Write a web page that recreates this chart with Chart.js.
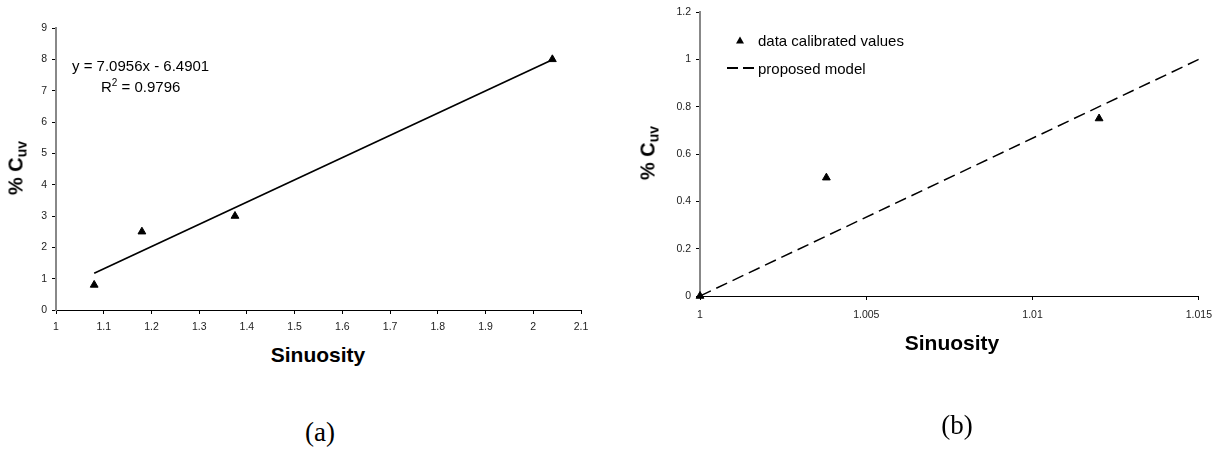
<!DOCTYPE html>
<html>
<head>
<meta charset="utf-8">
<script src="https://cdn.jsdelivr.net/npm/chart.js@4"></script>
<style>
  body { margin: 0; background: #fff; }
  #wrap { position: relative; width: 1221px; height: 450px; background: #fff; font-family: "Liberation Sans", Arial, sans-serif; color: #000; }
  .box { position: absolute; }
  .lbl { position: absolute; transform: translate(-50%, -50%); white-space: nowrap; line-height: 1; }
  .ttl { font-weight: bold; font-size: 21px; }
  .ytl { font-weight: bold; font-size: 20px; transform: translate(-50%, -50%) rotate(-90deg); }
  .ytl sub { font-size: 14px; vertical-align: -4px; }
  .cap { font-family: "Liberation Serif", "Times New Roman", serif; font-size: 27px; }
  .txt { position: absolute; font-size: 15px; line-height: 1; white-space: nowrap; transform: translateY(-50%); }
  .txt sup { font-size: 10px; vertical-align: 6px; }
  .tri { position: absolute; width: 0; height: 0; border-left: 4px solid transparent; border-right: 4px solid transparent; border-bottom: 7px solid #000; transform: translate(-50%, -50%); }
</style>
</head>
<body>
<div id="wrap">
  <div class="box" style="left:0;top:0;"><canvas id="chartA" width="610" height="340"></canvas></div>
  <div class="box" style="left:620px;top:0;"><canvas id="chartB" width="601" height="340"></canvas></div>

  <div class="lbl ytl" style="left:17px;top:168px;">% C<sub>uv</sub></div>
  <div class="lbl ttl" style="left:318px;top:354px;">Sinuosity</div>
  <div class="lbl cap" style="left:320px;top:432px;">(a)</div>
  <div class="txt" style="left:72px;top:65px;">y = 7.0956x - 6.4901</div>
  <div class="txt" style="left:101px;top:86px;">R<sup>2</sup> = 0.9796</div>

  <div class="lbl ytl" style="left:649px;top:153px;">% C<sub>uv</sub></div>
  <div class="lbl ttl" style="left:952px;top:342px;">Sinuosity</div>
  <div class="lbl cap" style="left:957px;top:425px;">(b)</div>
  <div class="tri" style="left:740px;top:40px;"></div>
  <div class="txt" style="left:758px;top:40px;">data calibrated values</div>
  <svg style="position:absolute;left:726px;top:64px;" width="30" height="8"><line x1="1" y1="4" x2="29" y2="4" stroke="#000" stroke-width="2" stroke-dasharray="11 5"/></svg>
  <div class="txt" style="left:758px;top:68px;">proposed model</div>
</div>

<script>
// (a) sinuosity vs %Cuv with linear trend
const sinA = [1.08, 1.18, 1.375, 2.04];
const cuvA = [0.8, 2.5, 3.0, 8.0];
const trendX = [1.08, 2.04];
const trendY = [1.17, 7.99];
const xTicksA = [1, 1.1, 1.2, 1.3, 1.4, 1.5, 1.6, 1.7, 1.8, 1.9, 2, 2.1];
const yTicksA = [0, 1, 2, 3, 4, 5, 6, 7, 8, 9];

// (b) calibrated values vs proposed model
const sinB = [1, 1.0038, 1.012];
const cuvB = [0, 0.5, 0.75];
const modelX = [1, 1.015];
const modelY = [0, 1.0];
const xTicksB = [1, 1.005, 1.01, 1.015];
const yTicksB = [0, 0.2, 0.4, 0.6, 0.8, 1, 1.2];

Chart.defaults.font.family = "'Liberation Sans', Arial, sans-serif";
Chart.defaults.font.size = 10.5;
Chart.defaults.color = '#222';

const pairs = (xs, ys) => xs.map((x, i) => ({ x: x, y: ys[i] }));
const fmt = v => String(+Number(v).toFixed(4));

function makeAxes(xTicks, yTicks, yWidth, xHeight, xPad) {
  return {
    x: {
      type: 'linear',
      min: xTicks[0], max: xTicks[xTicks.length - 1],
      afterBuildTicks: s => { s.ticks = xTicks.map(v => ({ value: v })); },
      afterFit: s => { s.height = xHeight; },
      grid: { drawOnChartArea: false, tickLength: 4, color: '#000' },
      border: { color: '#000', width: 1 },
      ticks: { padding: xPad, maxRotation: 0, autoSkip: false, callback: fmt }
    },
    y: {
      type: 'linear',
      min: yTicks[0], max: yTicks[yTicks.length - 1],
      afterBuildTicks: s => { s.ticks = yTicks.map(v => ({ value: v })); },
      afterFit: s => { s.width = yWidth; },
      grid: { drawOnChartArea: false, tickLength: 4, color: '#000' },
      border: { color: '#888', width: 2 },
      ticks: { padding: 5, autoSkip: false, callback: fmt }
    }
  };
}

const baseOpts = {
  responsive: false,
  animation: false,
  devicePixelRatio: 1,
  plugins: { legend: { display: false }, tooltip: { enabled: false } }
};

new Chart(document.getElementById('chartA'), {
  type: 'scatter',
  data: {
    datasets: [
      {
        label: 'data',
        data: pairs(sinA, cuvA),
        pointStyle: 'triangle',
        pointRadius: 4.5,
        backgroundColor: '#000',
        borderColor: '#000',
        clip: false
      },
      {
        label: 'trend',
        data: pairs(trendX, trendY),
        showLine: true,
        pointRadius: 0,
        borderColor: '#000',
        borderWidth: 1.7
      }
    ]
  },
  options: Object.assign({}, baseOpts, {
    layout: { padding: { left: 0, right: 29, top: 28, bottom: 0 } },
    scales: makeAxes(xTicksA, yTicksA, 56, 30, 7)
  })
});

new Chart(document.getElementById('chartB'), {
  type: 'scatter',
  data: {
    datasets: [
      {
        label: 'data calibrated values',
        data: pairs(sinB, cuvB),
        pointStyle: 'triangle',
        pointRadius: 4.5,
        backgroundColor: '#000',
        borderColor: '#000',
        clip: false
      },
      {
        label: 'proposed model',
        data: pairs(modelX, modelY),
        showLine: true,
        pointRadius: 0,
        borderColor: '#000',
        borderWidth: 1.5,
        borderDash: [12, 6]
      }
    ]
  },
  options: Object.assign({}, baseOpts, {
    layout: { padding: { left: 0, right: 21, top: 12, bottom: 0 } },
    scales: makeAxes(xTicksB, yTicksB, 80, 44, 9)
  })
});
</script>
</body>
</html>
